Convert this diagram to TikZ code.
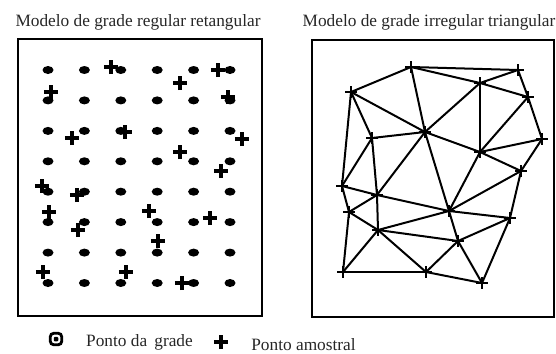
\documentclass[tikz,border=0pt]{standalone}
\usepackage{fontspec}
\setmainfont{Liberation Serif}
\usetikzlibrary{positioning,shapes.geometric,shapes.misc}

\begin{document}
\begin{tikzpicture}[
    x=1pt, y=-1pt,
    every node/.style={font=\fontsize{17.3}{20}\selectfont, text=black!85},
    caixa/.style={draw, line width=2.2pt, inner sep=0pt},
    grade/.style={ellipse, fill, minimum width=11pt, minimum height=8pt, inner sep=0pt},
    amostra/.style={cross out, draw, rotate=45, minimum size=7pt, inner sep=0pt, line width=3.2pt},
    vertice/.style={cross out, draw, rotate=45, minimum size=5pt, inner sep=0pt, line width=2.8pt},
    aresta/.style={line width=2pt, line cap=round},
    titulo/.style={anchor=base, inner sep=0pt},
  ]
    \useasboundingbox (0,0) rectangle (556,353);

    % molduras e titulos
    \node[caixa, minimum width=244pt, minimum height=277pt] (ret) at (140,177.5) {};
    \node[caixa, minimum width=242pt, minimum height=277pt] (tri) at (433,178.5) {};
    \node[titulo] (tret) at (138,26.5) {Modelo de grade regular retangular};
    \node[titulo] (ttri) at (429,26.5) {Modelo de grade irregular triangular};

    % pontos da grade
    \foreach \c [count=\i] in {48,84.4,120.8,157.2,193.6,230}
      \foreach \r [count=\j] in {70,100.4,130.9,161.3,191.7,222.1,252.6,283}
        \node[grade] (g\i-\j) at (\c,\r) {};

    % pontos amostrais (e vertices da triangulacao)
    \foreach \n/\x/\y in {A/111/67, B/218/70, C/180/83, D/51/92, E/228/97,
                          F/125/132, G/72/138, H/242/139, I/180/152, J/221/171,
                          K/42/186, L/77/195, M/49/212, N/149/211, O/210/218,
                          P/78/230, Q/158/241, R/43/272, S/126/272, T/182/283} {
      \node[amostra] (a\n) at (\x,\y) {};
      \coordinate (t\n) at (\x+300,\y);
    }

    % triangulacao
    \foreach \u/\v in {A/B, A/C, A/D, A/F, B/C, B/E, C/E, C/F, C/I, D/F, D/G, D/K,
                       E/H, E/I, F/G, F/I, F/L, F/N, G/K, G/L, H/I, H/J, I/J, I/N,
                       J/N, J/O, K/L, K/M, L/M, L/N, L/P, M/P, M/R, N/O, N/P, N/Q,
                       O/Q, O/T, P/Q, P/R, P/S, Q/S, Q/T, R/S, S/T}
      \draw[aresta] (t\u) -- (t\v);
    \foreach \n in {A,B,C,D,E,F,G,H,I,J,K,L,M,N,O,P,Q,R,S,T}
      \node[vertice] (m\n) at (t\n) {};

    % legenda
    \node[draw, rounded corners=3.5pt, line width=2.8pt, minimum size=11.5pt, inner sep=0pt] (lgr) at (56,339) {};
    \node[fill, rounded corners=1pt, minimum size=4.5pt, inner sep=0pt] (lgc) at (lgr) {};
    \node[titulo] (tgr) at (139.5,346.7) {Ponto da\, grade};
    \node[amostra] (lam) at (221,342) {};
    \node[titulo] (tam) at (303.5,350) {Ponto amostral};
  \end{tikzpicture}
\end{document}
